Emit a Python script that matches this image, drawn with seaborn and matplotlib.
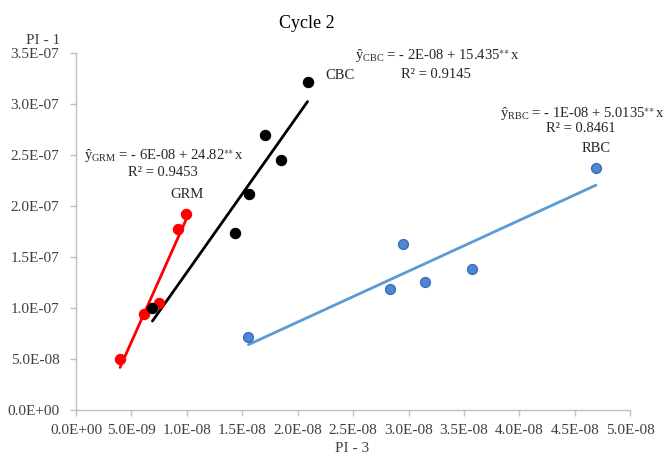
import numpy as np
import pandas as pd
import matplotlib
matplotlib.use("Agg")
import matplotlib.pyplot as plt
import seaborn as sns
from matplotlib.ticker import FuncFormatter

sns.set_theme(style="white")
plt.rcParams['font.family'] = ['Liberation Serif', 'DejaVu Serif']
plt.rcParams['mathtext.fontset'] = 'custom'
plt.rcParams['mathtext.rm'] = 'Liberation Serif'
plt.rcParams['mathtext.it'] = 'Liberation Serif:italic'

# data
grm_x = [3.97e-9, 6.14e-9, 7.52e-9, 9.18e-9, 9.90e-9]
grm_y = [5.00e-8, 9.41e-8, 1.052e-7, 1.775e-7, 1.918e-7]
cbc_x = [6.89e-9, 1.435e-8, 1.561e-8, 1.706e-8, 1.850e-8, 2.088e-8]
cbc_y = [1.003e-7, 1.738e-7, 2.118e-7, 2.693e-7, 2.451e-7, 3.216e-7]
rbc_x = [1.555e-8, 2.830e-8, 2.948e-8, 3.147e-8, 3.574e-8, 4.690e-8]
rbc_y = [7.16e-8, 1.186e-7, 1.627e-7, 1.252e-7, 1.379e-7, 2.376e-7]
x_ticks = np.arange(0, 5.01e-8, 5e-9)
y_ticks = np.arange(0, 3.51e-7, 5e-8)

fig = plt.figure(figsize=(6.67, 4.57), dpi=100)
ax = fig.add_axes([0.114, 0.103, 0.831, 0.781])

sns.regplot(x=np.array(grm_x), y=np.array(grm_y), ax=ax, ci=None, color='#ff0000',
            scatter_kws=dict(s=55, edgecolor='#ff0000', linewidths=0.8, alpha=1, zorder=3),
            line_kws=dict(lw=2))
sns.regplot(x=np.array(cbc_x), y=np.array(cbc_y), ax=ax, ci=None, color='black',
            scatter_kws=dict(s=55, edgecolor='black', linewidths=0.8, alpha=1, zorder=3),
            line_kws=dict(lw=2))
sns.regplot(x=np.array(rbc_x), y=np.array(rbc_y), ax=ax, ci=None, color='#5b9bd5',
            scatter_kws=dict(s=50, color='#4f86d6', edgecolor='#3a6cb8', linewidths=1.0, alpha=1, zorder=3),
            line_kws=dict(lw=2, color='#5b9bd5'))

ax.set_xlim(0, 5e-8)
ax.set_ylim(0, 3.5e-7)
ax.set_xticks(x_ticks)
ax.set_yticks(y_ticks)
fmt = FuncFormatter(lambda v, p: ('%.1E' % v))
ax.xaxis.set_major_formatter(fmt)
ax.yaxis.set_major_formatter(fmt)
ax.tick_params(axis='both', which='major', direction='out', length=4, width=1,
               color='#bfbfbf', labelsize=11, labelcolor='#404040', bottom=True, left=True)
ax.tick_params(axis='y', pad=8)
ax.tick_params(axis='x', pad=6)
for s in ['top', 'right']:
    ax.spines[s].set_visible(False)
for s in ['left', 'bottom']:
    ax.spines[s].set_color('#bfbfbf')
    ax.spines[s].set_linewidth(1)
ax.set_xlabel('')
ax.set_ylabel('')

fig.text(307/667, 1-23/457, 'Cycle 2', ha='center', va='center', fontsize=13, color='#000000')
fig.text(43/667, 1-41/457, 'PI - 1', ha='center', va='center', fontsize=11, color='#404040')
fig.text(352/667, 1-449/457, 'PI - 3', ha='center', va='center', fontsize=11, color='#404040')

def eq(name, b, a):
    return ('ŷ' + r'$_{\mathrm{' + name + r'}}$' + ' = - ' + b + ' + ' + a
            + r'$^{\ast\!\!\ast}$' + 'x')

tk = dict(fontsize=10.5, color='#262626', transform=fig.transFigure)
fig.text(164/667, 1-156/457, eq('GRM', '6E-08', '24.82'), ha='center', va='center', **tk)
fig.text(163/667, 1-172/457, 'R² = 0.9453', ha='center', va='center', **tk)
fig.text(187/667, 1-195/457, 'GRM', ha='center', va='center', **tk)

fig.text(437/667, 1-56/457, eq('CBC', '2E-08', '15.435'), ha='center', va='center', **tk)
fig.text(436/667, 1-74/457, 'R² = 0.9145', ha='center', va='center', **tk)
fig.text(340/667, 1-76/457, 'CBC', ha='center', va='center', **tk)

fig.text(582/667, 1-113/457, eq('RBC', '1E-08', '5.0135'), ha='center', va='center', **tk)
fig.text(581/667, 1-129/457, 'R² = 0.8461', ha='center', va='center', **tk)
fig.text(596/667, 1-149/457, 'RBC', ha='center', va='center', **tk)

fig.savefig('out.png', dpi=100)
